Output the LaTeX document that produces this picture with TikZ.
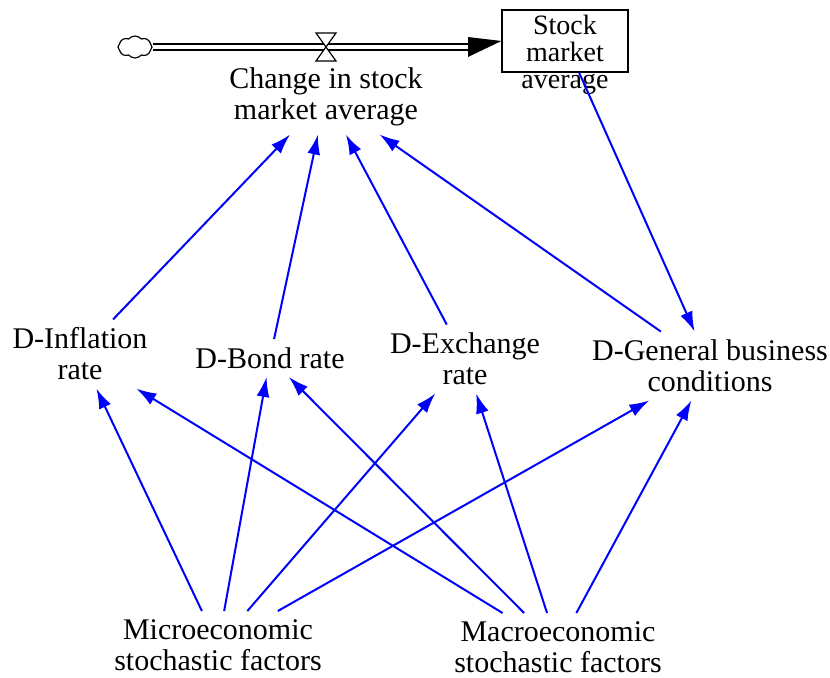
\documentclass[tikz,border=0pt]{standalone}
\usepackage{fontspec}
\setmainfont{Liberation Serif}
\usetikzlibrary{arrows.meta,shapes.symbols,calc}
\begin{document}
\begin{tikzpicture}[x=0.5pt,y=-0.5pt,
  var/.style={align=center,font=\fontsize{15}{15.5}\selectfont,inner sep=4pt},
  link/.style={draw=blue,line width=1pt,-{Latex[length=10pt,width=6.5pt]}},
  pipe/.style={double,double distance=2.4pt,line width=0.8pt}]
\useasboundingbox (0,0) rectangle (830,678);
% stock and flow
\node[draw,line width=0.6pt,minimum width=63pt,minimum height=31pt,inner sep=0pt] (stock) at (565,41) {};
\node[align=center,font=\fontsize{14}{13.5}\selectfont,inner sep=0pt] (stocktxt) at (565,55) {Stock\\market\\average};
\node[cloud,draw,cloud puffs=8,cloud puff arc=100,aspect=1.5,minimum width=17pt,minimum height=11pt,inner sep=0pt,line width=0.6pt] (cloud) at (135,47) {};
\coordinate (pipeend) at (468,47);
\draw[pipe] (cloud.east) -- (pipeend);
\fill ($(pipeend)+(0,-10)$) -- (stock.west) -- ($(pipeend)+(0,10)$) -- cycle;
\coordinate (valve) at (326,47);
\draw[fill=white,line width=0.6pt] (valve) -- ++(-10,-14) -- ++(20,0) -- cycle;
\draw[fill=white,line width=0.6pt] (valve) -- ++(-10,14) -- ++(20,0) -- cycle;
% variables
\node[var] (change) at (326,97) {Change in stock\\market average};
\node[var] (infl) at (80,354) {D-Inflation\\rate};
\node[var] (bond) at (270,358) {D-Bond rate};
\node[var] (exch) at (465,359) {D-Exchange\\rate};
\node[var] (gen) at (710,366) {D-General business\\conditions};
\node[var] (micro) at (218,645) {Microeconomic\\stochastic factors};
\node[var] (macro) at (558,647) {Macroeconomic\\stochastic factors};
% links
\draw[link] (infl) -- (change);
\draw[link] (bond) -- (change);
\draw[link] (exch) -- (change);
\draw[link] (gen) -- (change);
\draw[link] (stock) -- (gen);
\draw[link] (micro) -- (infl);
\draw[link] (micro) -- (bond);
\draw[link] (micro) -- (exch);
\draw[link] (micro) -- (gen);
\draw[link] (macro) -- (infl);
\draw[link] (macro) -- (bond);
\draw[link] (macro) -- (exch);
\draw[link] (macro) -- (gen);
\end{tikzpicture}
\end{document}
